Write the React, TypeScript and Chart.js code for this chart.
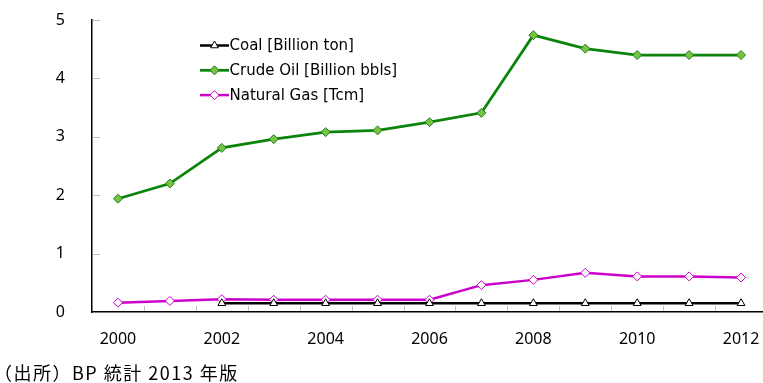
import React, { useEffect, useRef } from 'react';
import { Chart, registerables } from 'chart.js';

Chart.register(...registerables);

const years = ['2000', '2001', '2002', '2003', '2004', '2005', '2006', '2007', '2008', '2009', '2010', '2011', '2012'];
const shownYears = ['2000', '2002', '2004', '2006', '2008', '2010', '2012'];
const coal = [null, null, 0.15, 0.15, 0.15, 0.15, 0.15, 0.15, 0.15, 0.15, 0.15, 0.15, 0.15];
const crudeOil = [1.94, 2.2, 2.81, 2.96, 3.08, 3.11, 3.25, 3.41, 4.74, 4.51, 4.4, 4.4, 4.4];
const naturalGas = [0.16, 0.19, 0.22, 0.21, 0.21, 0.21, 0.21, 0.46, 0.55, 0.67, 0.61, 0.61, 0.59];
const seriesLabels = ['Coal [Billion ton]', 'Crude Oil [Billion bbls]', 'Natural Gas [Tcm]'];
const yMin = 0;
const yMax = 5;
const yStep = 1;
const sourceNote = '（出所）BP 統計 2013 年版';

const TICK_FONT = '"Noto Sans", "DejaVu Sans", sans-serif';
const LEGEND_FONT = '"DejaVu Sans", "Noto Sans", sans-serif';

function drawMarker(ctx: CanvasRenderingContext2D, style: string, x: number, y: number, r: number, fill: string, stroke: string) {
  ctx.save();
  ctx.beginPath();
  if (style === 'triangle') {
    let rad = 0;
    ctx.moveTo(x + Math.sin(rad) * r, y - Math.cos(rad) * r);
    rad += (2 * Math.PI) / 3;
    ctx.lineTo(x + Math.sin(rad) * r, y - Math.cos(rad) * r);
    rad += (2 * Math.PI) / 3;
    ctx.lineTo(x + Math.sin(rad) * r, y - Math.cos(rad) * r);
    ctx.closePath();
  } else {
    ctx.moveTo(x, y - r);
    ctx.lineTo(x + r, y);
    ctx.lineTo(x, y + r);
    ctx.lineTo(x - r, y);
    ctx.closePath();
  }
  ctx.fillStyle = fill;
  ctx.fill();
  ctx.lineWidth = 1;
  ctx.strokeStyle = stroke;
  ctx.stroke();
  ctx.restore();
}

const innerTicksPlugin = {
  id: 'innerTicks',
  afterDraw(chart: any) {
    const ctx = chart.ctx as CanvasRenderingContext2D;
    const x = chart.scales.x;
    const y = chart.scales.y;
    const area = chart.chartArea;
    ctx.save();
    ctx.strokeStyle = '#c0c0c0';
    ctx.lineWidth = 1;
    for (const t of y.ticks) {
      const py = Math.round(y.getPixelForValue(t.value)) + 0.5;
      if (Math.abs(py - area.bottom) < 2) continue;
      ctx.beginPath();
      ctx.moveTo(area.left + 1, py);
      ctx.lineTo(area.left + 8, py);
      ctx.stroke();
    }
    for (let i = 0; i < years.length; i++) {
      const px = Math.round((x.getPixelForValue(i) + x.getPixelForValue(i + 1)) / 2) + 0.5;
      ctx.beginPath();
      ctx.moveTo(px, area.bottom - 1);
      ctx.lineTo(px, area.bottom - 6);
      ctx.stroke();
    }
    ctx.restore();
  },
};

const legendPlugin = {
  id: 'insideLegend',
  afterDraw(chart: any) {
    const ctx = chart.ctx as CanvasRenderingContext2D;
    ctx.save();
    chart.data.datasets.forEach((ds: any, i: number) => {
      const cy = 45.5 + i * 24.8;
      ctx.beginPath();
      ctx.strokeStyle = ds.borderColor;
      ctx.lineWidth = ds.borderWidth;
      ctx.moveTo(200, cy);
      ctx.lineTo(229, cy);
      ctx.stroke();
      drawMarker(ctx, ds.pointStyle, 214.5, cy, ds.pointRadius, ds.pointBackgroundColor, ds.pointBorderColor);
      ctx.fillStyle = '#000';
      ctx.font = `15px ${LEGEND_FONT}`;
      ctx.textBaseline = 'middle';
      ctx.textAlign = 'left';
      ctx.fillText(ds.label, 229.5, cy + 1);
    });
    ctx.restore();
  },
};

export default function App() {
  const ref = useRef<HTMLCanvasElement | null>(null);

  useEffect(() => {
    if (!ref.current) return;
    const chart = new Chart(ref.current, {
      type: 'line',
      data: {
        labels: years,
        datasets: [
          {
            label: seriesLabels[0],
            data: coal,
            borderColor: '#000000',
            borderWidth: 2.5,
            pointStyle: 'triangle',
            pointRadius: 4.5,
            pointBackgroundColor: '#ffffff',
            pointBorderColor: '#000000',
            pointBorderWidth: 1,
            tension: 0,
          },
          {
            label: seriesLabels[1],
            data: crudeOil,
            borderColor: '#0b840b',
            borderWidth: 2.75,
            pointStyle: 'rectRot',
            pointRadius: 4.5,
            pointBackgroundColor: '#76c442',
            pointBorderColor: '#1f7a1f',
            pointBorderWidth: 1,
            tension: 0,
          },
          {
            label: seriesLabels[2],
            data: naturalGas,
            borderColor: '#cc00cc',
            borderWidth: 2.5,
            pointStyle: 'rectRot',
            pointRadius: 4.5,
            pointBackgroundColor: '#ffffff',
            pointBorderColor: '#cc00cc',
            pointBorderWidth: 1,
            tension: 0,
          },
        ],
      },
      options: {
        responsive: false,
        animation: false,
        devicePixelRatio: 1,
        layout: { autoPadding: false, padding: { left: 0, right: 1, top: 20, bottom: 0 } },
        plugins: {
          legend: { display: false },
          tooltip: { enabled: false },
        },
        scales: {
          x: {
            type: 'category',
            offset: true,
            grid: { display: false, drawTicks: false, offset: true },
            border: { display: true, color: '#000', width: 1.5 },
            ticks: {
              autoSkip: false,
              maxRotation: 0,
              padding: 18,
              color: '#000',
              font: { family: TICK_FONT, size: 16 },
              callback: (_v: any, idx: number) => (shownYears.includes(years[idx]) ? years[idx] : ''),
            },
            afterFit: (s: any) => {
              s.height = 71;
              s.paddingLeft = 0;
              s.paddingRight = 0;
            },
          },
          y: {
            min: yMin,
            max: yMax,
            grid: { display: false, drawTicks: false },
            border: { display: true, color: '#000', width: 1.5 },
            ticks: {
              stepSize: yStep,
              padding: 27,
              color: '#000',
              font: { family: TICK_FONT, size: 16 },
            },
            afterFit: (s: any) => {
              s.width = 92;
              s.paddingTop = 0;
              s.paddingBottom = 0;
            },
          },
        },
      },
      plugins: [innerTicksPlugin, legendPlugin],
    });
    return () => chart.destroy();
  }, []);

  return (
    <div style={{ position: 'absolute', left: 0, top: 0, width: 763, height: 383, overflow: 'hidden', background: '#fff' }}>
      <canvas ref={ref} width={768} height={383} style={{ display: 'block', width: 768, height: 383 }} />
      <div
        style={{
          position: 'absolute',
          left: -6,
          top: 363,
          fontFamily: '"Noto Sans CJK JP", "Noto Sans", sans-serif',
          fontSize: 18,
          lineHeight: '18px',
          letterSpacing: '1.5px',
          color: '#000',
          whiteSpace: 'nowrap',
        }}
      >
        {sourceNote}
      </div>
    </div>
  );
}
